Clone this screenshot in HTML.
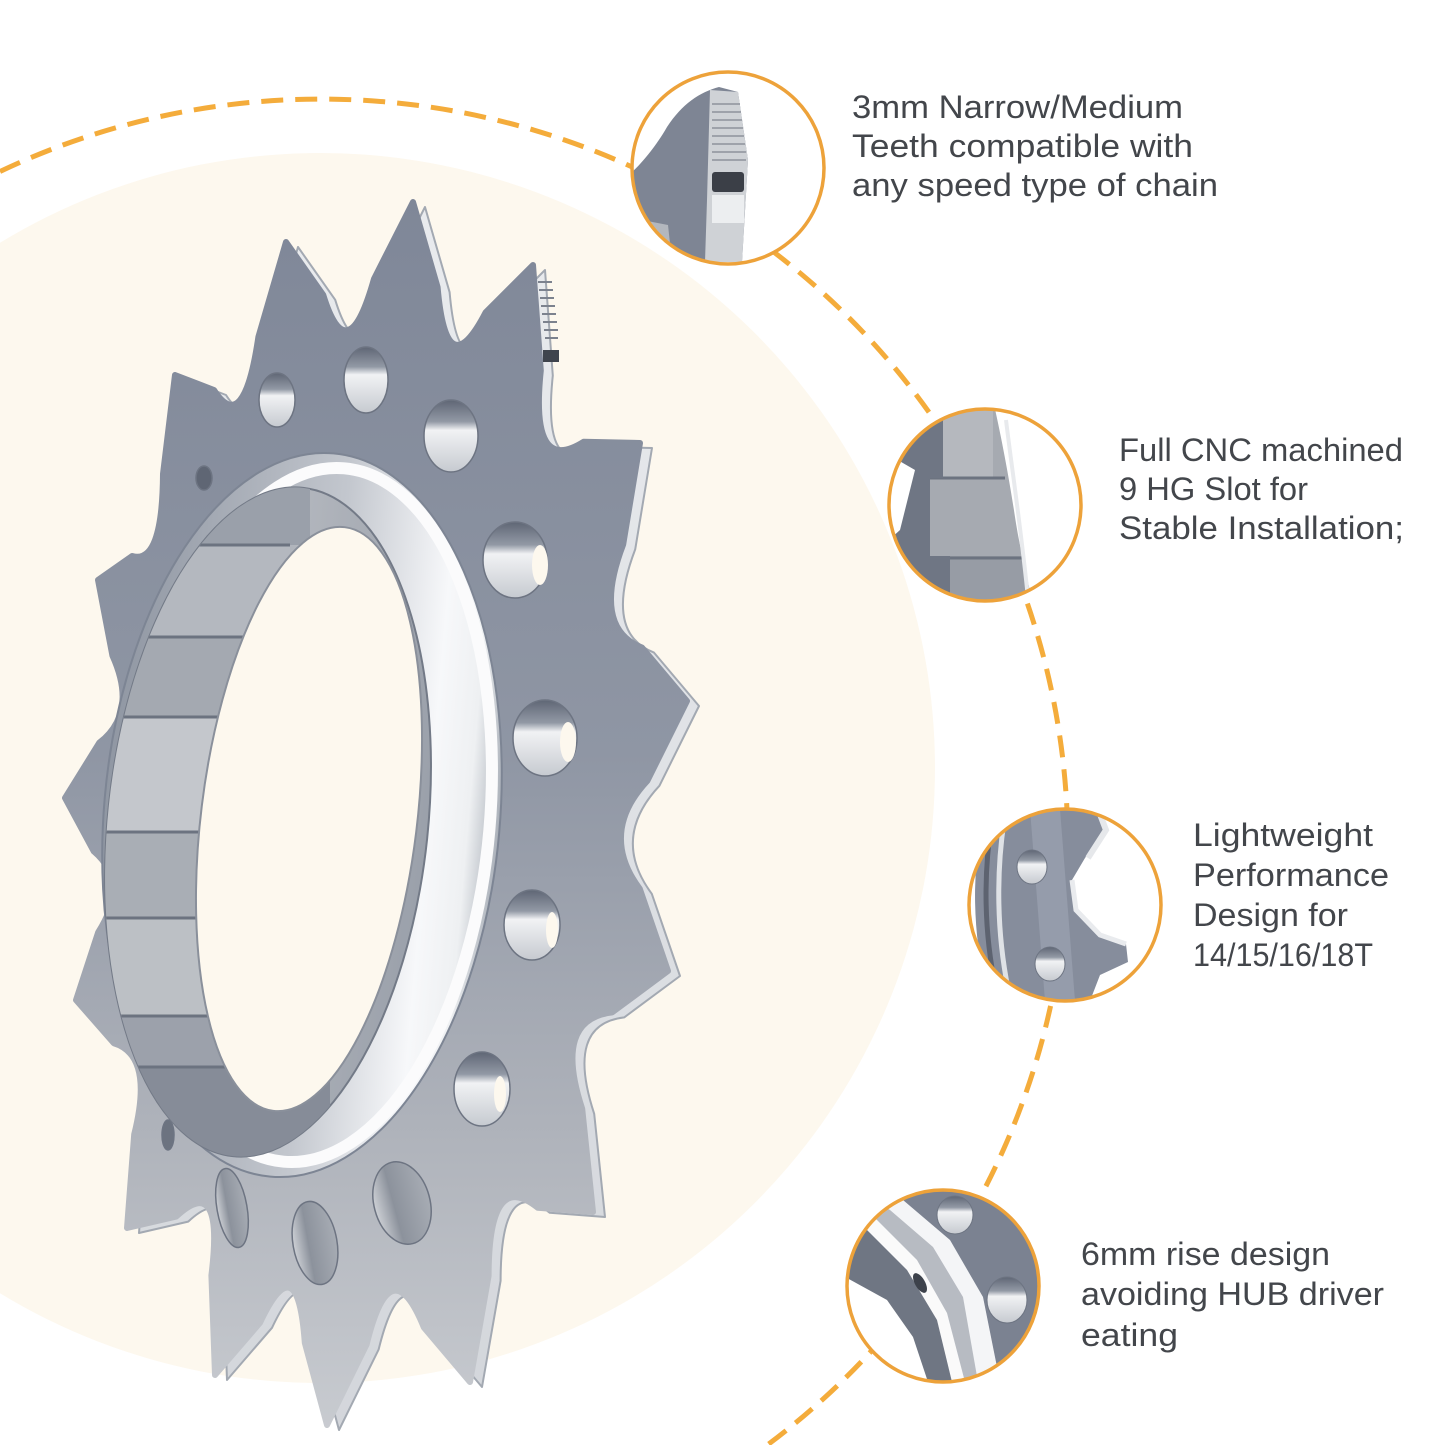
<!DOCTYPE html>
<html><head><meta charset="utf-8">
<style>
html,body{margin:0;padding:0;background:#fff;width:1445px;height:1445px;overflow:hidden;}
svg{display:block;}
.t{font-family:"Liberation Sans",sans-serif;font-size:32px;fill:#43464b;}
</style></head><body>
<svg width="1445" height="1445" viewBox="0 0 1445 1445" xmlns="http://www.w3.org/2000/svg">
<defs>
 <linearGradient id="face" x1="0" y1="200" x2="0" y2="1430" gradientUnits="userSpaceOnUse">
  <stop offset="0" stop-color="#7f8798"/>
  <stop offset="0.45" stop-color="#8f96a4"/>
  <stop offset="0.75" stop-color="#aeb2ba"/>
  <stop offset="1" stop-color="#c8cbd0"/>
 </linearGradient>
 <linearGradient id="side" x1="0" y1="200" x2="0" y2="1430" gradientUnits="userSpaceOnUse">
  <stop offset="0" stop-color="#e9ebee"/>
  <stop offset="1" stop-color="#d3d6db"/>
 </linearGradient>
 <linearGradient id="chrome" x1="100" y1="0" x2="500" y2="0" gradientUnits="userSpaceOnUse">
  <stop offset="0" stop-color="#8f96a2"/>
  <stop offset="0.55" stop-color="#c3c7ce"/>
  <stop offset="0.82" stop-color="#f7f8fa"/>
  <stop offset="0.92" stop-color="#eef0f2"/>
  <stop offset="1" stop-color="#a9afb8"/>
 </linearGradient>
 <linearGradient id="wall" x1="110" y1="0" x2="430" y2="0" gradientUnits="userSpaceOnUse">
  <stop offset="0" stop-color="#8d939e"/>
  <stop offset="0.5" stop-color="#b2b6bd"/>
  <stop offset="1" stop-color="#9aa0aa"/>
 </linearGradient>
 <linearGradient id="holeg" x1="0" y1="0" x2="0" y2="1">
  <stop offset="0" stop-color="#5f6675"/>
  <stop offset="0.3" stop-color="#9299a5"/>
  <stop offset="0.42" stop-color="#f1f2f4"/>
  <stop offset="1" stop-color="#c6cad0"/>
 </linearGradient>
 <linearGradient id="holeb" x1="0" y1="0" x2="1" y2="0">
  <stop offset="0" stop-color="#cdd0d5"/>
  <stop offset="0.35" stop-color="#8c929c"/>
  <stop offset="1" stop-color="#a7acb4"/>
 </linearGradient>
 <clipPath id="wallclip"><ellipse cx="268" cy="822" rx="160" ry="336" transform="rotate(6 268 822)"/></clipPath>
 <clipPath id="c1"><circle cx="728" cy="168" r="96"/></clipPath>
 <clipPath id="c2"><circle cx="985" cy="505" r="96"/></clipPath>
 <clipPath id="c3"><circle cx="1065" cy="905" r="96"/></clipPath>
 <clipPath id="c4"><circle cx="943" cy="1286" r="96"/></clipPath>
 <path id="gear" d="M413,202 L437.6,287.2 Q446.4,388.2 485.6,312.4 L533,265 L540.8,370.6 Q529.8,475.8 583.6,441.8 L640,443 L623.2,544.4 Q591.4,628 642,647.6 L687,701 L647.4,780.8 Q598.4,833.2 639.8,888.8 L668,971 L612.2,1012.4 Q552.8,1019.4 582.2,1108.8 L593,1212 L537.8,1207.8 Q488.8,1168.2 488.6,1275.8 L470,1382 L423.8,1327.4 Q390.8,1246 366.6,1344.6 L327,1425 L304.8,1342.8 Q297.6,1243.2 260,1322.8 L215,1375 L211.4,1275.4 Q224.2,1172 176.2,1216.6 L127,1228 L134.2,1134.4 Q154,1055.2 113.8,1043.2 L76,1000 L98.2,932.2 Q130,882.2 93.8,851.4 L65,798 L99.2,742.8 Q138.2,712.8 112.4,655.6 L98,580 L132.2,556 Q162.4,565 163,474 L175,375 L214,390 Q243.8,436.6 258.4,336.8 L286,242 L323.2,294.8 Q347.4,373.2 374,278.8 Z"/>
</defs>

<rect width="1445" height="1445" fill="#ffffff"/>
<!-- cream disc (clipped at left edge) -->
<path d="M0,242.8 A615,615 0 1 1 0,1293.2 Z" fill="#fdf8ee"/>
<!-- dashed orbit (visible arc only) -->
<path d="M0,171.5 A747,747 0 0 1 767.3,1445" fill="none" stroke="#f4ac3b" stroke-width="5" stroke-dasharray="22 12"/>

<!-- ===== Sprocket ===== -->
<g stroke-linejoin="round">
 <use href="#gear" transform="translate(12,5)" fill="url(#side)" stroke="#a3a9b2" stroke-width="2"/>
 <use href="#gear" fill="url(#face)" stroke="url(#face)" stroke-width="6"/>
</g>
<g stroke="#7c828e" stroke-width="2">
 <line x1="538" y1="282" x2="552" y2="282"/><line x1="539" y1="290" x2="553" y2="290"/>
 <line x1="540" y1="298" x2="554" y2="298"/><line x1="541" y1="306" x2="555" y2="306"/>
 <line x1="542" y1="314" x2="556" y2="314"/><line x1="543" y1="322" x2="557" y2="322"/>
 <line x1="544" y1="330" x2="558" y2="330"/><line x1="545" y1="338" x2="558" y2="338"/>
</g>
<rect x="543" y="350" width="16" height="12" fill="#3f444d"/>

<!-- holes -->
<g stroke="#6d7482" stroke-width="1.5">
 <ellipse cx="204" cy="478" rx="8" ry="12" fill="#5f6674"/>
 <ellipse cx="277" cy="400" rx="18" ry="27" fill="url(#holeg)"/>
 <ellipse cx="366" cy="380" rx="22" ry="33" fill="url(#holeg)"/>
 <ellipse cx="451" cy="436" rx="27" ry="36" fill="url(#holeg)"/>
 <ellipse cx="515" cy="560" rx="32" ry="38" fill="url(#holeg)"/>
 <ellipse cx="545" cy="738" rx="32" ry="38" fill="url(#holeg)"/>
 <ellipse cx="532" cy="925" rx="28" ry="35" fill="url(#holeg)"/>
 <ellipse cx="482" cy="1089" rx="28" ry="37" fill="url(#holeg)"/>
 <ellipse cx="402" cy="1203" rx="28" ry="42" transform="rotate(-15 402 1203)" fill="url(#holeb)"/>
 <ellipse cx="315" cy="1243" rx="22" ry="42" transform="rotate(-10 315 1243)" fill="url(#holeb)"/>
 <ellipse cx="232" cy="1208" rx="15" ry="40" transform="rotate(-10 232 1208)" fill="url(#holeb)"/>
 <ellipse cx="168" cy="1135" rx="6" ry="15" fill="#6c7380"/>
</g>
<g fill="#fdf8ee">
 <ellipse cx="540" cy="565" rx="8" ry="20"/>
 <ellipse cx="568" cy="742" rx="8" ry="20"/>
 <ellipse cx="552" cy="930" rx="6" ry="18"/>
 <ellipse cx="500" cy="1094" rx="6" ry="18"/>
</g>

<!-- hub ring -->
<ellipse cx="302" cy="815" rx="198" ry="363" transform="rotate(5 302 815)" fill="url(#chrome)" stroke="#7d8594" stroke-width="2"/>
<ellipse cx="314" cy="815" rx="176" ry="348" transform="rotate(5 314 815)" fill="none" stroke="#fbfbfc" stroke-width="12"/>
<ellipse cx="268" cy="822" rx="160" ry="336" transform="rotate(6 268 822)" fill="url(#wall)" stroke="#737a87" stroke-width="2"/>
<g clip-path="url(#wallclip)">
 <rect x="90" y="470" width="220" height="75" fill="#9aa0aa"/>
 <rect x="90" y="545" width="200" height="92" fill="#b4b8bf"/>
 <rect x="90" y="637" width="200" height="80" fill="#a4a9b1"/>
 <rect x="90" y="717" width="200" height="115" fill="#c4c7cc"/>
 <rect x="90" y="832" width="200" height="86" fill="#a9aeb5"/>
 <rect x="90" y="918" width="200" height="98" fill="#bcc0c5"/>
 <rect x="90" y="1016" width="220" height="51" fill="#9ca1ab"/>
 <rect x="90" y="1067" width="240" height="100" fill="#868c98"/>
 <g stroke="#6c7380" stroke-width="3">
  <line x1="90" y1="545" x2="290" y2="545"/><line x1="90" y1="637" x2="290" y2="637"/>
  <line x1="90" y1="717" x2="290" y2="717"/><line x1="90" y1="832" x2="290" y2="832"/>
  <line x1="90" y1="918" x2="290" y2="918"/><line x1="90" y1="1016" x2="290" y2="1016"/>
  <line x1="90" y1="1067" x2="300" y2="1067"/>
 </g>
</g>
<ellipse cx="309" cy="819" rx="108" ry="294" transform="rotate(7 309 819)" fill="#fdf8ee" stroke="#8a909b" stroke-width="2"/>

<!-- ===== Magnifier 1 ===== -->
<circle cx="728" cy="168" r="96" fill="#fff"/>
<g clip-path="url(#c1)">
 <path d="M632,262 L632,172 C640,165 655,148 667,127 C682,104 700,92 719,87 L738,92 L748,160 L742,262 Z" fill="#7e8594"/>
 <path d="M710,90 L738,92 L748,160 L742,262 L705,262 L707,200 Z" fill="#cfd2d6"/>
 <g stroke="#8d929b" stroke-width="1.5">
  <line x1="712" y1="104" x2="740" y2="104"/><line x1="712" y1="112" x2="741" y2="112"/>
  <line x1="712" y1="120" x2="742" y2="120"/><line x1="712" y1="128" x2="743" y2="128"/>
  <line x1="712" y1="136" x2="744" y2="136"/><line x1="712" y1="144" x2="745" y2="144"/>
  <line x1="712" y1="152" x2="746" y2="152"/><line x1="712" y1="160" x2="746" y2="160"/>
 </g>
 <rect x="712" y="172" width="32" height="20" rx="3" fill="#3b3f47"/>
 <rect x="712" y="195" width="32" height="28" fill="#eceef0"/>
 <path d="M632,218 L668,225 L672,262 L632,262 Z" fill="#b3b7be"/>
</g>
<circle cx="728" cy="168" r="96" fill="none" stroke="#eda23a" stroke-width="3.5"/>

<!-- ===== Magnifier 2 ===== -->
<circle cx="985" cy="505" r="96" fill="#fff"/>
<g clip-path="url(#c2)">
 <path d="M889,409 L995,409 C1004,450 1011,490 1015,517 C1020,550 1027,575 1032,601 L889,601 Z" fill="#a6aab1"/>
 <rect x="943" y="409" width="50" height="69" fill="#b5b8be"/>
 <line x1="930" y1="478" x2="1005" y2="478" stroke="#6c7380" stroke-width="3"/>
 <path d="M950,556 L1022,556 L1030,601 L950,601 Z" fill="#979ca5"/>
 <line x1="950" y1="558" x2="1022" y2="558" stroke="#6c7380" stroke-width="3"/>
 <path d="M889,409 L943,409 L943,478 L930,478 L930,556 L950,556 L950,601 L889,601 Z" fill="#6f7684"/>
 <path d="M889,455 L915,470 L900,530 L889,540 Z" fill="#ffffff"/>
 <path d="M1006,420 C1012,470 1020,520 1028,598" stroke="#e8eaed" stroke-width="4" fill="none"/>
</g>
<circle cx="985" cy="505" r="96" fill="none" stroke="#eda23a" stroke-width="3.5"/>

<!-- ===== Magnifier 3 ===== -->
<circle cx="1065" cy="905" r="96" fill="#fff"/>
<g clip-path="url(#c3)">
 <path d="M969,809 L1098,809 L1105,830 L1085,858 L1072,880 L1076,910 L1100,935 L1126,944 L1128,962 L1100,975 L1090,1001 L969,1001 Z" fill="#868d9c"/>
 <path d="M1030,809 L1060,809 L1075,1001 L1045,1001 Z" fill="#959cab"/>
 <path d="M1098,809 L1106,830 L1088,858" stroke="#e6e8eb" stroke-width="6" fill="none"/>
 <path d="M1072,880 L1076,910 L1100,935 L1126,944" stroke="#e9ebee" stroke-width="5" fill="none"/>
 <path d="M980,815 C968,870 968,935 985,998" stroke="#ffffff" stroke-width="7" fill="none"/>
 <path d="M993,815 C983,870 983,935 998,998" stroke="#5d6370" stroke-width="5" fill="none"/>
 <path d="M1005,815 C996,870 996,935 1010,998" stroke="#dfe2e6" stroke-width="5" fill="none"/>
 <ellipse cx="1032" cy="867" rx="15" ry="17" fill="url(#holeg)" stroke="#6d7482" stroke-width="1"/>
 <ellipse cx="1050" cy="964" rx="15" ry="17" fill="url(#holeg)" stroke="#6d7482" stroke-width="1"/>
</g>
<circle cx="1065" cy="905" r="96" fill="none" stroke="#eda23a" stroke-width="3.5"/>

<!-- ===== Magnifier 4 ===== -->
<circle cx="943" cy="1286" r="96" fill="#7b8291"/>
<g clip-path="url(#c4)">
 <path d="M870,1190 L903,1200 L950,1240 L983,1297 L1000,1382 L847,1382 L847,1190 Z" fill="#f4f5f7"/>
 <path d="M855,1190 L890,1210 L933,1247 L963,1297 L978,1382 L847,1382 L847,1190 Z" fill="#b7bbc2"/>
 <path d="M847,1195 L877,1220 L917,1260 L947,1313 L965,1382 L847,1382 Z" fill="#fafafa"/>
 <path d="M847,1215 L867,1230 L907,1270 L937,1320 L952,1382 L847,1382 Z" fill="#6f7683"/>
 <path d="M847,1278 L887,1300 L913,1337 L928,1382 L847,1382 Z" fill="#ffffff"/>
 <ellipse cx="920" cy="1283" rx="5" ry="11" transform="rotate(-30 920 1283)" fill="#3d424b"/>
 <ellipse cx="955" cy="1215" rx="18" ry="19" fill="url(#holeg)" stroke="#6d7482" stroke-width="1"/>
 <ellipse cx="1007" cy="1300" rx="20" ry="23" fill="url(#holeg)" stroke="#6d7482" stroke-width="1"/>
</g>
<circle cx="943" cy="1286" r="96" fill="none" stroke="#eda23a" stroke-width="3.5"/>

<!-- ===== Text ===== -->
<text class="t" x="852" y="118" textLength="331" lengthAdjust="spacingAndGlyphs">3mm Narrow/Medium</text>
<text class="t" x="852" y="157" textLength="341" lengthAdjust="spacingAndGlyphs">Teeth compatible with</text>
<text class="t" x="852" y="196" textLength="366" lengthAdjust="spacingAndGlyphs">any speed type of chain</text>

<text class="t" x="1119" y="461" textLength="284" lengthAdjust="spacingAndGlyphs">Full CNC machined</text>
<text class="t" x="1119" y="500" textLength="189" lengthAdjust="spacingAndGlyphs">9 HG Slot for</text>
<text class="t" x="1119" y="539" textLength="285" lengthAdjust="spacingAndGlyphs">Stable Installation;</text>

<text class="t" x="1193" y="846" textLength="180" lengthAdjust="spacingAndGlyphs">Lightweight</text>
<text class="t" x="1193" y="886" textLength="196" lengthAdjust="spacingAndGlyphs">Performance</text>
<text class="t" x="1193" y="926" textLength="155" lengthAdjust="spacingAndGlyphs">Design for</text>
<text class="t" x="1193" y="966" textLength="180" lengthAdjust="spacingAndGlyphs">14/15/16/18T</text>

<text class="t" x="1081" y="1265" textLength="249" lengthAdjust="spacingAndGlyphs">6mm rise design</text>
<text class="t" x="1081" y="1305" textLength="303" lengthAdjust="spacingAndGlyphs">avoiding HUB driver</text>
<text class="t" x="1081" y="1346" textLength="97" lengthAdjust="spacingAndGlyphs">eating</text>
</svg>
</body></html>
